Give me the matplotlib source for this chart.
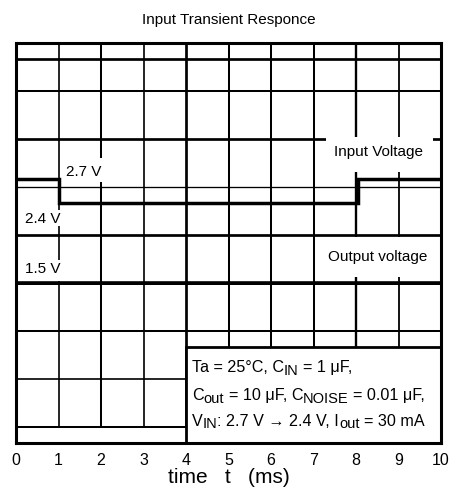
import matplotlib
matplotlib.use('Agg')
import matplotlib.pyplot as plt
from matplotlib.patches import Rectangle

plt.rcParams['font.family'] = ['Liberation Sans', 'DejaVu Sans']

# scope screen: x in ms, y in screen units (16 px each)
time_ticks = list(range(0, 11))
grid_t = [1, 2, 3, 4, 5, 6, 7, 8, 9]
grid_t_lw = [1.2, 1.45, 1.2, 1.95, 1.45, 1.45, 1.45, 1.7, 1.3]
grid_y = [1, 4, 7, 10, 13, 16, 19, 22, 24]
grid_y_lw = [1.45, 1.2, 1.45, 2.1, 1.95, 0.95, 1.95, 1.45, 1.95]

# traces
input_t = [0, 1, 1, 8.05, 8.05, 10]
input_v = [16.5, 16.5, 15.0, 15.0, 16.5, 16.5]
output_t = [0, 10]
output_v = [10, 10]

level_labels = ['2.7 V', '2.4 V', '1.5 V']
level_x = [1.18, 0.21, 0.21]
level_y = [16.95, 14.0, 10.85]

# condition text: (text, is_subscript)
cond_lines = [
    [('Ta = 25°C, C', False), ('IN', True), (' = 1 μF,', False)],
    [('C', False), ('out', True), (' = 10 μF, C', False), ('NOISE', True),
     (' = 0.01 μF,', False)],
    [('V', False), ('IN', True), (': 2.7 V → 2.4 V, I', False), ('out', True),
     (' = 30 mA', False)],
]
cond_y = [4.42, 2.69, 1.08]

FS = 11
BOX_FS = 11.6
SUB_FS = 10.5


def rich_line(ax, x, y, parts):
    first = None
    prev = None
    for s, sub in parts:
        nsp = len(s) - len(s.lstrip(' '))
        s = s.strip(' ')
        dx = nsp * 0.278 * BOX_FS
        if first is None:
            first = ax.text(x, y, s, fontsize=BOX_FS, ha='left',
                            va='baseline', zorder=5)
            prev = first
            continue
        t = ax.annotate(s, xy=(1, 0), xycoords=(prev, first),
                        xytext=(dx, -2.0 if sub else 0),
                        textcoords='offset points',
                        fontsize=SUB_FS if sub else BOX_FS,
                        ha='left', va='bottom', zorder=5)
        prev = t


fig = plt.figure(figsize=(4.57, 5.0), dpi=100)
ax = fig.add_axes([16 / 457, 57 / 500, 425 / 457, 400 / 500])
ax.set_xlim(0, 10)
ax.set_ylim(0, 25)

# grid
for x, lw in zip(grid_t, grid_t_lw):
    ax.vlines(x, 1, 25, color='black', lw=lw, zorder=1)
for y, lw in zip(grid_y, grid_y_lw):
    ax.hlines(y, 0, 10, color='black', lw=lw, zorder=1)

# white masks behind the labels
masks = [(1.1, 16.31, 1.02, 1.5), (0.1, 13.56, 1.1, 1.0), (0.1, 10.15, 1.1, 1.3),
         (7.29, 16.94, 2.52, 2.2), (7.27, 10.35, 2.54, 2.55)]
for mx, my, mw, mh in masks:
    ax.add_patch(Rectangle((mx, my), mw, mh, facecolor='white',
                           edgecolor='none', zorder=2))

ax.plot(input_t, input_v, color='black', lw=2.5, zorder=4,
        solid_joinstyle='miter')
ax.plot(output_t, output_v, color='black', lw=2.6, zorder=4)

for lab, x, y in zip(level_labels, level_x, level_y):
    ax.text(x, y, lab, fontsize=FS, ha='left', va='center', zorder=5)
ax.text(8.52, 18.2, 'Input Voltage', fontsize=FS, ha='center',
        va='center', zorder=5)
ax.text(8.52, 11.6, 'Output voltage', fontsize=FS, ha='center',
        va='center', zorder=5)

# conditions box
ax.add_patch(Rectangle((4, 0), 6, 6, facecolor='white', edgecolor='black',
                       lw=2.0, zorder=3))
for parts, y in zip(cond_lines, cond_y):
    rich_line(ax, 4.14, y, parts)

for sp in ax.spines.values():
    sp.set_linewidth(2.2)
    sp.set_zorder(6)

ax.set_xticks(time_ticks)
ax.set_xticklabels([str(t) for t in time_ticks])
ax.set_yticks([])
ax.tick_params(axis='x', length=0, pad=7, labelsize=11.5)
ax.set_xlabel('time   t   (ms)', fontsize=15, labelpad=0)
ax.set_title('Input Transient Responce', fontsize=11, pad=14)

plt.savefig('out.png', dpi=100)
